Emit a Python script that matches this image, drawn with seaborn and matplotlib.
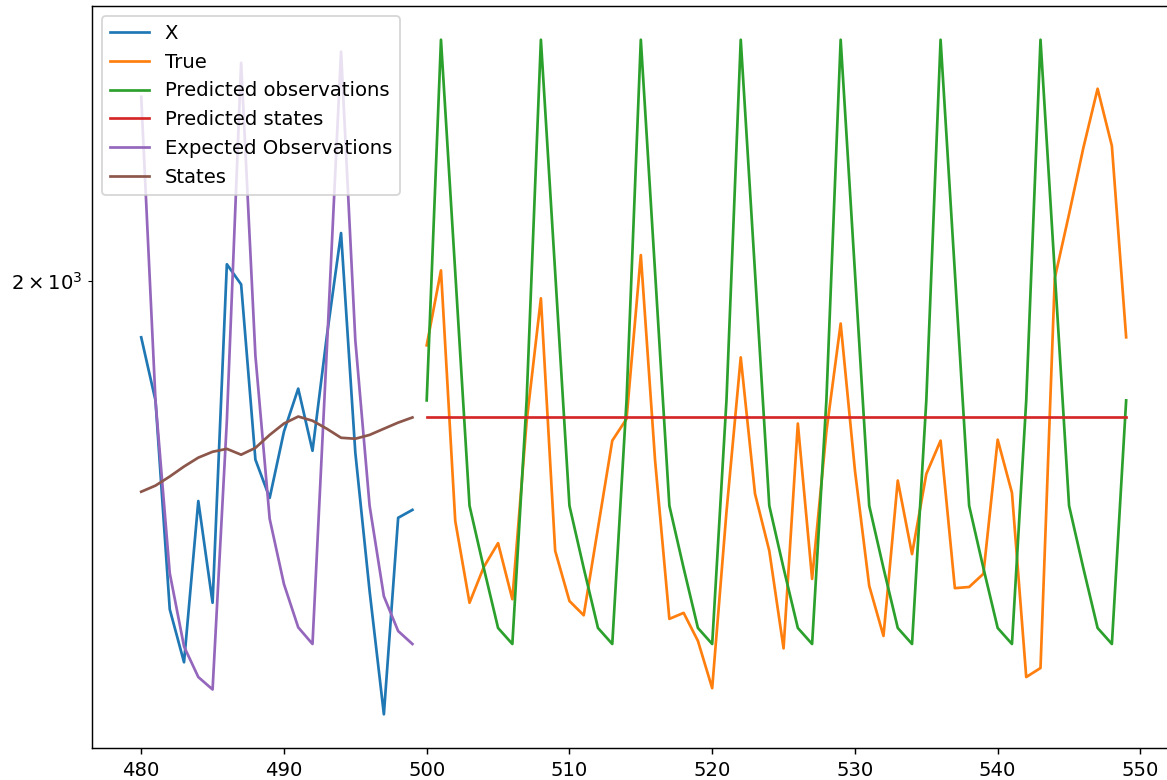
import matplotlib
matplotlib.use("Agg")
import matplotlib.pyplot as plt
from matplotlib.ticker import LogLocator
import numpy as np
import seaborn as sns

# time steps
hist_steps = list(range(480, 500))
fut_steps = list(range(500, 550))

# observed history
x_obs = [1862, 1718, 1316, 1230, 1511, 1327, 2044, 1992, 1593, 1517,
         1651, 1744, 1611, 1864, 2127, 1607, 1347, 1151, 1479, 1494]

# expected observations over the history window
expected_obs = [2531, 1718, 1378, 1255, 1207, 1188, 1674, 2643, 1819, 1477,
                1359, 1286, 1259, 1831, 2681, 1855, 1502, 1338, 1280, 1259]

# smoothed hidden states over the history window
states = [1529, 1541, 1559, 1579, 1597, 1609, 1615, 1603, 1617, 1644,
          1668, 1683, 1674, 1657, 1638, 1636, 1644, 1657, 1670, 1681]

# actual values over the forecast window
true_vals = [1843, 2028, 1473, 1327, 1389, 1432, 1333, 1672, 1957, 1418,
             1330, 1306, 1460, 1632, 1678, 2068, 1591, 1300, 1310, 1264,
             1190, 1490, 1815, 1525, 1418, 1252, 1668, 1368, 1651, 1895,
             1571, 1356, 1272, 1551, 1412, 1564, 1632, 1352, 1354, 1377,
             1634, 1527, 1207, 1221, 2008, 2179, 2371, 2557, 2377, 1862]

# forecast observations
pred_obs = [1718, 2722, 2023, 1502, 1387, 1285, 1259,
            1718, 2722, 2023, 1502, 1387, 1285, 1259,
            1718, 2722, 2023, 1502, 1387, 1285, 1259,
            1718, 2722, 2023, 1502, 1387, 1285, 1259,
            1718, 2722, 2023, 1502, 1387, 1285, 1259,
            1718, 2722, 2023, 1502, 1387, 1285, 1259,
            1718, 2722, 2023, 1502, 1387, 1285, 1259,
            1718]

# forecast states
pred_states = [1681] * 50

palette = sns.color_palette("tab10")
plt.rcParams["font.size"] = 10.9

fig = plt.figure(figsize=(1167 / 130, 780 / 130), dpi=130)
ax = fig.add_axes([0.0788, 0.0410, 0.9284, 0.9513])
ax.set_yscale("log")

sns.lineplot(x=hist_steps, y=x_obs, color=palette[0], label="X", ax=ax)
sns.lineplot(x=fut_steps, y=true_vals, color=palette[1], label="True", ax=ax)
sns.lineplot(x=fut_steps, y=pred_obs, color=palette[2],
             label="Predicted observations", ax=ax)
sns.lineplot(x=fut_steps, y=pred_states, color=palette[3],
             label="Predicted states", ax=ax)
sns.lineplot(x=hist_steps, y=expected_obs, color=palette[4],
             label="Expected Observations", ax=ax)
sns.lineplot(x=hist_steps, y=states, color=palette[5], label="States", ax=ax)

ax.yaxis.set_minor_locator(LogLocator(base=10, subs=[2.0]))
ax.set_xticks([480, 490, 500, 510, 520, 530, 540, 550])
ax.legend(loc="upper left")

fig.savefig("out.png", dpi=130)
